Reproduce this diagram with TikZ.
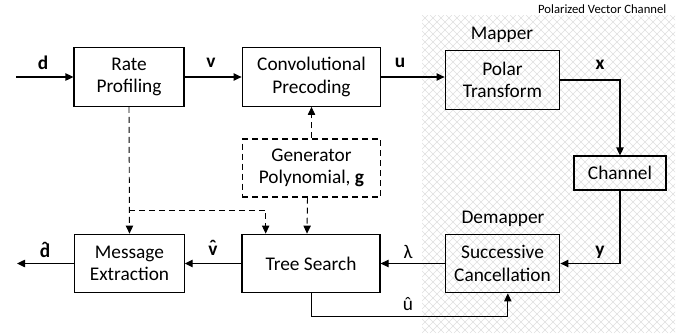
\documentclass[tikz,border=0pt]{standalone}
\usepackage{fontspec}
\setmainfont{Carlito}
\usetikzlibrary{arrows.meta}
\newcommand\hatted[1]{\ooalign{#1\cr\hidewidth\raisebox{0.25ex}{ˆ}\hidewidth\cr}}

\begin{document}
\begin{tikzpicture}[x=0.75pt,y=-0.75pt,
    block/.style={draw,line width=0.8pt,align=center,inner sep=0pt,
      font=\fontsize{14.5}{17}\selectfont},
    sig/.style={line width=1pt,-{Triangle[length=6pt,width=5.5pt]}},
    thin sig/.style={line width=0.7pt,-{Triangle[length=6pt,width=5.5pt]}},
    ctrl/.style={line width=0.7pt,dash pattern=on 4.5pt off 3pt,
      -{Triangle[length=6pt,width=5.5pt]}},
    lab/.style={font=\fontsize{14.5}{17}\selectfont}]
  \useasboundingbox (0,0) rectangle (694,333);
  % shaded vector channel
  \begin{scope}
    \clip (422,15) rectangle (675,333);
    \foreach \k in {-40,...,32}{%
      \draw[gray!25,line width=0.35pt] (422+\k*8,333) -- ++(318,-318);
      \draw[gray!25,line width=0.35pt] (422+\k*8,15) -- ++(318,318);
    }
  \end{scope}
  \node[font=\fontsize{9.5}{11}\selectfont,anchor=east] (pvc) at (671,9)
    {Polarized Vector Channel};
  % blocks
  \node[block,minimum width=82.5pt,minimum height=44pt] (rate) at (129,77)
    {Rate\\Profiling};
  \node[block,minimum width=104pt,minimum height=44pt] (conv) at (311.5,77)
    {Convolutional\\Precoding};
  \node[block,minimum width=86pt,minimum height=44pt] (polar) at (502.5,80)
    {Polar\\Transform};
  \node[block,minimum width=69pt,minimum height=25.5pt] (chan) at (620,173)
    {Channel};
  \node[block,minimum width=86pt,minimum height=44pt] (sc) at (502.5,263.5)
    {Successive\\Cancellation};
  \node[block,minimum width=103.5pt,minimum height=44pt] (tree) at (311,263.5)
    {Tree Search};
  \node[block,minimum width=82pt,minimum height=44pt] (msg) at (129.5,263.5)
    {Message\\Extraction};
  \node[block,dashed,dash pattern=on 4.5pt off 3pt,minimum width=104pt,
    minimum height=43.5pt] (gen) at (311.5,168)
    {Generator\\Polynomial, \textbf{g}};
  \node[lab] (mapper) at (502,35) {Mapper};
  \node[lab] (demapper) at (503,219) {Demapper};
  % forward path
  \coordinate (din) at (16,77);
  \coordinate (dout) at (17,263.5);
  \draw[sig] (din) -- (rate.west);
  \draw[sig] (rate) -- (conv);
  \draw[sig] (conv.east) -- (conv.east -| polar.west);
  \draw[sig] (polar.east) -| (chan.north);
  \draw[sig] (chan.south) |- (sc.east);
  \draw[thin sig] (sc.west) -- (tree.east);
  \draw[sig] (tree) -- (msg);
  \draw[sig] (msg.west) -- (dout);
  \draw[thin sig] (tree.south) -- ++(0,23) -| ([xshift=4pt]sc.south);
  % control lines
  \coordinate (split) at (129,210);
  \draw[ctrl] (gen.north) -- (conv.south);
  \draw[ctrl] ([xshift=-3pt]gen.south) -- ([xshift=-3pt]tree.north);
  \draw[ctrl] (rate.south) -- (msg.north);
  \draw[ctrl] (split) -| ([xshift=-34pt]tree.north);
  % signal labels
  \node[lab] (ld) at (43,63) {\textbf{d}};
  \node[lab] (lv) at (211,63) {\textbf{v}};
  \node[lab] (lu) at (400,63) {\textbf{u}};
  \node[lab] (lx) at (600,65) {\textbf{x}};
  \node[lab] (ly) at (600,252) {\textbf{y}};
  \node[lab] (llam) at (408,252) {λ};
  \node[lab] (luhat) at (408,304) {û};
  \node[lab] (lvhat) at (213,251) {\textbf{\hatted{v}}};
  \node[lab] (ldhat) at (45,251) {\textbf{\hatted{d}}};
\end{tikzpicture}
\end{document}
